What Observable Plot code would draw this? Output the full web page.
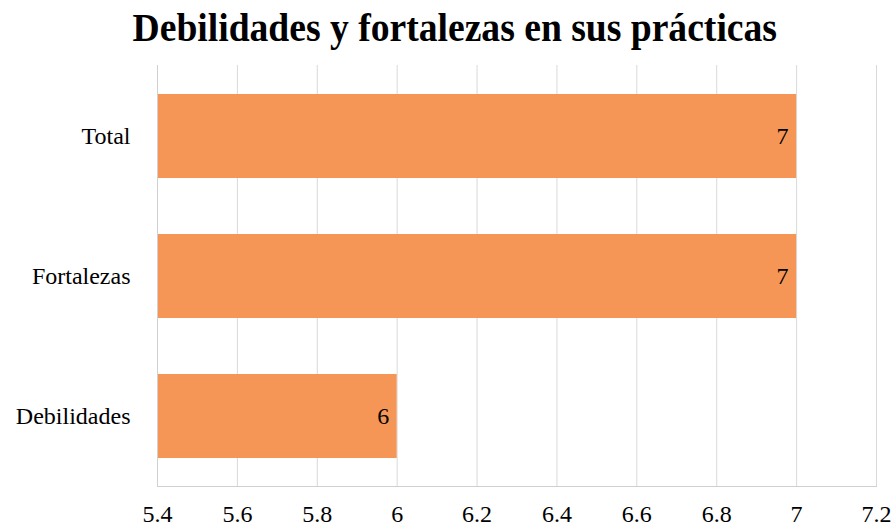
<!DOCTYPE html>
<html>
<head>
<meta charset="utf-8">
<script src="https://cdn.jsdelivr.net/npm/d3@7"></script>
<script src="https://cdn.jsdelivr.net/npm/@observablehq/plot@0.6"></script>
<style>
  html, body { margin: 0; padding: 0; background: #fff; }
  #title { width: 891px; height: 60px; text-align: center; font-family: "Liberation Serif", "Times New Roman", serif; font-weight: bold; font-size: 40px; line-height: 56px; color: #000; }
  #title span { display: inline-block; transform: scaleX(0.94); transform-origin: center; margin-left: 18px; }
  #chart svg { display: block; }
  #chart svg text { font-family: "Liberation Serif", "Times New Roman", serif !important; font-size: 24px !important; fill: #000; }
</style>
</head>
<body>
<div id="title"><span>Debilidades y fortalezas en sus prácticas</span></div>
<div id="chart"></div>
<script>
const categories = ["Total", "Fortalezas", "Debilidades"];
const values = [7, 7, 6];
const xTicks = [5.4, 5.6, 5.8, 6, 6.2, 6.4, 6.6, 6.8, 7, 7.2];

const data = categories.map((c, i) => ({category: c, value: values[i]}));
const fmt = d => String(+d.toFixed(1));

const chart = Plot.plot({
  width: 891,
  height: 466,
  marginTop: 5,
  marginBottom: 40,
  marginLeft: 157,
  marginRight: 15,
  style: {fontFamily: "'Liberation Serif', 'Times New Roman', serif", fontSize: "24px", color: "#000", background: "#fff", overflow: "visible"},
  x: {domain: [5.4, 7.2], ticks: xTicks, tickFormat: fmt, label: null},
  y: {domain: categories, paddingInner: 0.4, paddingOuter: 0.2, label: null},
  marks: [
    Plot.gridX(xTicks, {stroke: "#d9d9d9", strokeOpacity: 1}),
    Plot.barX(data, {x1: 5.4, x2: "value", y: "category", fill: "#F59657"}),
    Plot.frame({anchor: "bottom", stroke: "#d0d0d0"}),
    Plot.frame({anchor: "left", stroke: "#d0d0d0"}),
    Plot.axisX({ticks: xTicks, tickFormat: fmt, tickSize: 0, tickPadding: 18}),
    Plot.axisY({tickSize: 0, tickPadding: 27}),
    Plot.text(data, {x: "value", y: "category", text: d => String(d.value), textAnchor: "end", dx: -8})
  ]
});
document.getElementById("chart").appendChild(chart);
</script>
</body>
</html>
